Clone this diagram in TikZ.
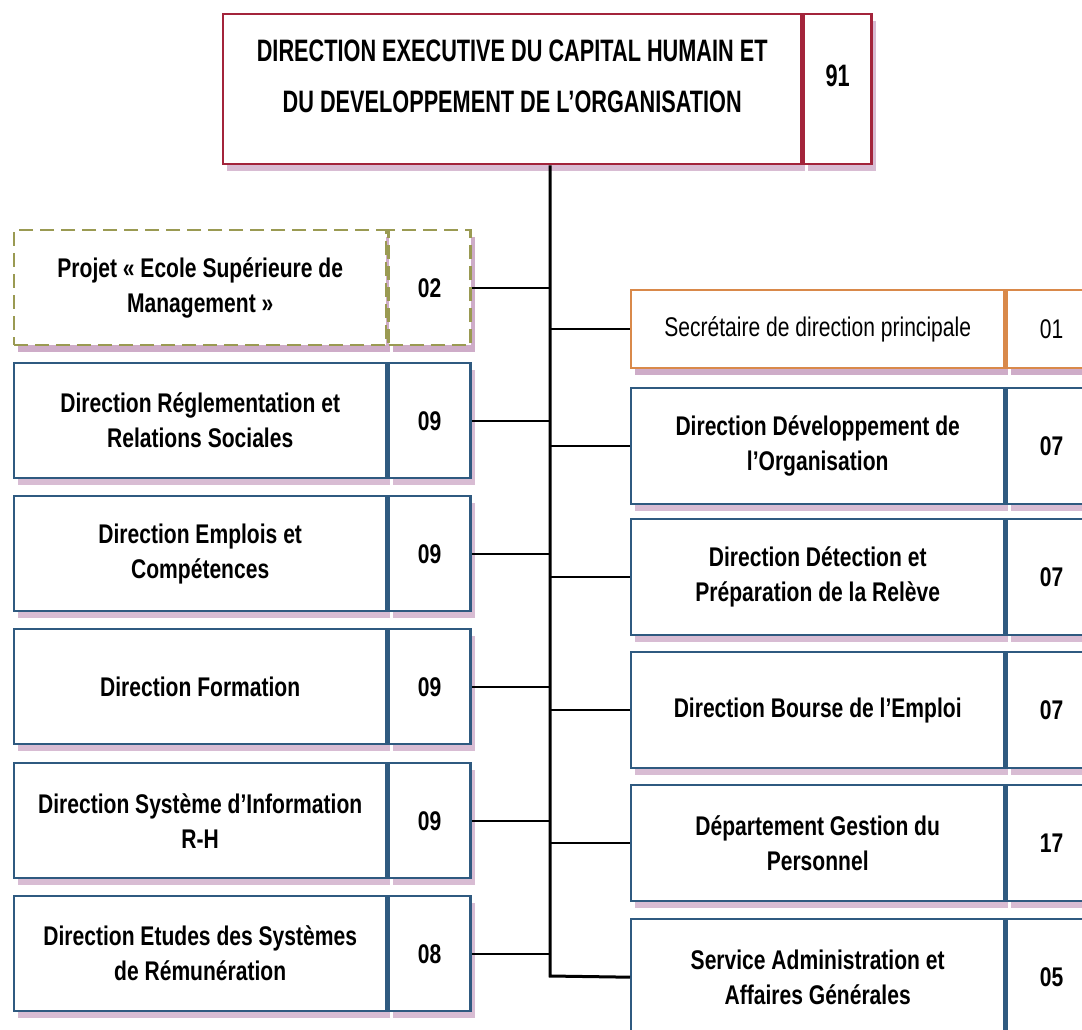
\documentclass[tikz,border=0pt]{standalone}
\usepackage{fontspec}
\setmainfont{Liberation Sans}[FakeStretch=0.78]
\newfontfamily\headfont{Liberation Sans}[FakeStretch=0.7]
\usetikzlibrary{positioning,shadows}

\definecolor{headred}{HTML}{A3243B}
\definecolor{boxblue}{HTML}{2F5A80}
\definecolor{secorange}{HTML}{D9894A}
\definecolor{projolive}{HTML}{9A9A52}
\definecolor{shadowpink}{HTML}{CBA6C4}

\tikzset{
  unit/.style={draw=boxblue, fill=white, line width=1.2pt, inner sep=2pt, align=center,
    font=\fontsize{13.5}{17.5}\selectfont\bfseries,
    drop shadow={shadow xshift=2pt, shadow yshift=-3.5pt, fill=shadowpink, opacity=0.75}},
  lbl/.style={unit, minimum width=186pt, minimum height=57.5pt, anchor=north west},
  num/.style={unit, minimum width=41pt, minimum height=57.5pt},
  headbox/.style={unit, draw=headred, minimum height=75pt,
    font=\headfont\fontsize{15.5}{25.5}\selectfont\bfseries},
  secbox/.style={unit, draw=secorange, minimum height=39pt},
  projbox/.style={unit, draw=projolive, dash pattern=on 7pt off 3.5pt},
  trunk/.style={line width=1.5pt},
  link/.style={line width=1.2pt}
}

\begin{document}
\begin{tikzpicture}[x=0.5pt, y=-0.5pt]
\useasboundingbox (0,0) rectangle (1082,1029);

% direction executive
\node[headbox, minimum width=289pt, anchor=north west] (head) at (222,13)
  {DIRECTION EXECUTIVE DU CAPITAL HUMAIN ET\\DU DEVELOPPEMENT DE L’ORGANISATION\\[-12pt]\mbox{}};
\node[headbox, minimum width=34pt, right=0pt of head] (headn) {91\\[-12pt]\mbox{}};

% colonne gauche
\node[lbl, projbox] (proj) at (13,229) {Projet « Ecole Supérieure de\\Management »};
\node[num, projbox, right=0pt of proj] (projn) {02};
\node[lbl] (regl) at (13,362) {Direction Réglementation et\\Relations Sociales};
\node[num, right=0pt of regl] (regln) {09};
\node[lbl] (empl) at (13,495) {Direction Emplois et\\Compétences};
\node[num, right=0pt of empl] (empln) {09};
\node[lbl] (form) at (13,628) {Direction Formation};
\node[num, right=0pt of form] (formn) {09};
\node[lbl] (sirh) at (13,762) {Direction Système d'Information\\R-H};
\node[num, right=0pt of sirh] (sirhn) {09};
\node[lbl] (remu) at (13,895) {Direction Etudes des Systèmes\\de Rémunération};
\node[num, right=0pt of remu] (remun) {08};

% colonne droite
\node[lbl, secbox, minimum width=186.5pt, font=\fontsize{13.5}{17.5}\selectfont] (secr) at (630,289)
  {Secrétaire de direction principale};
\node[num, secbox, minimum width=45pt, font=\fontsize{13.5}{17.5}\selectfont, right=0pt of secr] (secrn) {01};
\node[lbl, minimum width=186.5pt, minimum height=58pt] (dorg) at (630,387) {Direction Développement de\\l’Organisation};
\node[num, minimum width=45pt, minimum height=58pt, right=0pt of dorg] (dorgn) {07};
\node[lbl, minimum width=186.5pt, minimum height=58pt] (drel) at (630,518) {Direction Détection et\\Préparation de la Relève};
\node[num, minimum width=45pt, minimum height=58pt, right=0pt of drel] (dreln) {07};
\node[lbl, minimum width=186.5pt, minimum height=58pt] (bour) at (630,651) {Direction Bourse de l’Emploi};
\node[num, minimum width=45pt, minimum height=58pt, right=0pt of bour] (bourn) {07};
\node[lbl, minimum width=186.5pt, minimum height=58pt] (pers) at (630,784) {Département Gestion du\\Personnel};
\node[num, minimum width=45pt, minimum height=58pt, right=0pt of pers] (persn) {17};
\node[lbl, minimum width=186.5pt, minimum height=58pt] (sadm) at (630,918) {Service Administration et\\Affaires Générales};
\node[num, minimum width=45pt, minimum height=58pt, right=0pt of sadm] (sadmn) {05};

% liaisons
\coordinate (ttop) at (550,165);
\coordinate (tbot) at (550,976);
\draw[trunk] (head.south -| ttop) -- (tbot) -- (sadm.west);
\draw[link] (projn.east) -- (projn.east -| ttop);
\draw[link] (regln.east) -- (regln.east -| ttop);
\draw[link] (empln.east) -- (empln.east -| ttop);
\draw[link] (formn.east) -- (formn.east -| ttop);
\draw[link] (sirhn.east) -- (sirhn.east -| ttop);
\draw[link] (remun.east) -- (remun.east -| ttop);
\draw[link] (ttop |- secr.west) -- (secr.west);
\draw[link] (ttop |- dorg.west) -- (dorg.west);
\draw[link] (ttop |- drel.west) -- (drel.west);
\draw[link] (ttop |- bour.west) -- (bour.west);
\draw[link] (ttop |- pers.west) -- (pers.west);
\end{tikzpicture}
\end{document}
